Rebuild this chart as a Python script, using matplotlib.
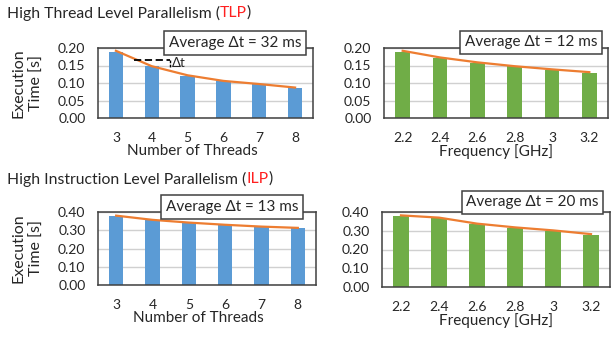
import matplotlib
matplotlib.use("Agg")
import matplotlib.pyplot as plt

# Datos ---------------------------------------------------------------------
hilos = ["3", "4", "5", "6", "7", "8"]
frecuencias = ["2.2", "2.4", "2.6", "2.8", "3", "3.2"]

tlp_hilos = [0.190, 0.150, 0.121, 0.105, 0.097, 0.085]
tlp_hilos_tend = [0.192, 0.148, 0.122, 0.106, 0.097, 0.087]
tlp_frec = [0.190, 0.172, 0.158, 0.148, 0.138, 0.130]
tlp_frec_tend = [0.192, 0.173, 0.159, 0.148, 0.139, 0.131]

ilp_hilos = [0.376, 0.355, 0.340, 0.328, 0.318, 0.310]
ilp_hilos_tend = [0.380, 0.357, 0.342, 0.330, 0.320, 0.313]
ilp_frec = [0.380, 0.368, 0.336, 0.315, 0.300, 0.280]
ilp_frec_tend = [0.382, 0.370, 0.338, 0.318, 0.302, 0.282]

promedios = ["32", "12", "13", "20"]

# Estilo --------------------------------------------------------------------
plt.rcParams["font.family"] = ["Lato", "DejaVu Sans"]
azul = "#5B9BD5"
verde = "#70AD47"
naranja = "#ED7D31"
borde = "#404040"
texto = "#262626"

W, H = 613, 337
fig = plt.figure(figsize=(W / 100, H / 100), dpi=100)


def ejes(x0, x1, y0, y1):
    # coordenadas en pixeles (y desde arriba)
    return fig.add_axes([x0 / W, 1 - y1 / H, (x1 - x0) / W, (y1 - y0) / H])


def panel(ax, cats, vals, tend, color, ymax, paso, xlabel, prom, caja,
          ylabel=True, xlab_x=0.5):
    x = range(len(cats))
    ax.bar(x, vals, width=0.4, color=color, zorder=2)
    ax.plot(x, tend, color=naranja, lw=1.6, zorder=3)
    ax.set_xlim(-0.5, len(cats) - 0.5)
    ax.set_ylim(0, ymax)
    ticks = [i * paso for i in range(int(round(ymax / paso)) + 1)]
    ax.set_yticks(ticks)
    ax.set_yticklabels([f"{t:.2f}" for t in ticks])
    ax.set_xticks(list(x))
    ax.set_xticklabels(cats)
    ax.grid(axis="y", color="#d0d0d0", lw=1, zorder=0)
    for s in ax.spines.values():
        s.set_color(borde)
        s.set_linewidth(1.1)
    ax.tick_params(length=0, labelsize=10, colors=texto)
    ax.tick_params(axis="y", pad=9)
    ax.tick_params(axis="x", pad=10)
    ax.set_xlabel(xlabel, fontsize=11, color=texto, labelpad=0, x=xlab_x)
    if ylabel:
        ax.set_ylabel("Execution\nTime [s]", fontsize=11.5, color=texto,
                      labelpad=10, linespacing=1.45)
    ax.text(caja[0], caja[1], f"Average Δt = {prom} ms", transform=ax.transAxes,
            ha="center", va="center", fontsize=11, color=texto, zorder=5,
            clip_on=False,
            bbox=dict(boxstyle="square,pad=0.3", fc="white", ec=borde, lw=1.1))


ax1 = ejes(98, 313, 48, 118)
ax2 = ejes(384, 608, 48, 118)
ax3 = ejes(98, 316, 212, 285)
ax4 = ejes(382, 610, 212, 287)

panel(ax1, hilos, tlp_hilos, tlp_hilos_tend, azul, 0.20, 0.05,
      "Number of Threads", promedios[0], (0.637, 1.071), xlab_x=0.44)
panel(ax2, frecuencias, tlp_frec, tlp_frec_tend, verde, 0.20, 0.05,
      "Frequency [GHz]", promedios[1], (0.656, 1.079), ylabel=False)
panel(ax3, hilos, ilp_hilos, ilp_hilos_tend, azul, 0.40, 0.10,
      "Number of Threads", promedios[2], (0.615, 1.068), xlab_x=0.46)
panel(ax4, frecuencias, ilp_frec, ilp_frec_tend, verde, 0.40, 0.10,
      "Frequency [GHz]", promedios[3], (0.66, 1.127), ylabel=False)

# Anotacion delta t
ax1.plot([0.5, 1.5], [0.166, 0.166], color="black", lw=1.3, ls=(0, (4, 2)), zorder=4)
ax1.plot([1.5, 1.5], [0.166, 0.147], color="black", lw=1.0, ls=(0, (2, 1)), zorder=4)
ax1.text(1.55, 0.157, "Δt", fontsize=9.5, color=texto, va="center", ha="left", zorder=4)

# Titulos con parte en rojo
def titulo(x, y, partes):
    fig.canvas.draw()
    r = fig.canvas.get_renderer()
    xp = x
    for txt, col in partes:
        t = fig.text(xp / W, 1 - y / H, txt, color=col, fontsize=11.3,
                     ha="left", va="center")
        bb = t.get_window_extent(renderer=r)
        xp += bb.width


titulo(7, 13, [("High Thread Level Parallelism (", texto), ("TLP", "#FF2020"), (")", texto)])
titulo(7, 179, [("High Instruction Level Parallelism (", texto), ("ILP", "#FF2020"), (")", texto)])

fig.savefig("out.png", dpi=100)
